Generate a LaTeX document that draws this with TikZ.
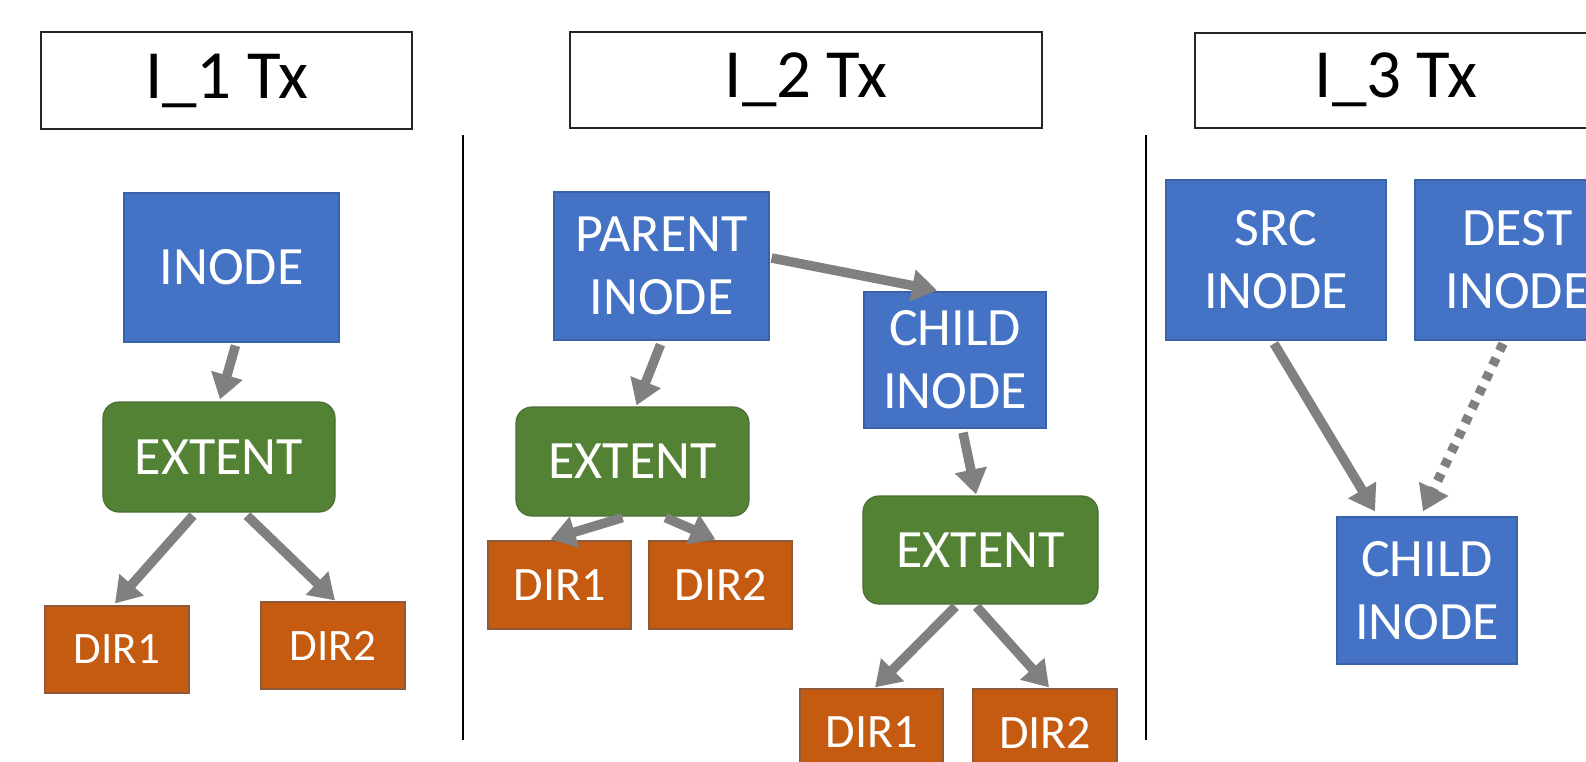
\documentclass[tikz,border=0pt]{standalone}
\usepackage{fontspec}
\setmainfont{Carlito}
\usetikzlibrary{arrows.meta}
\definecolor{myblue}{HTML}{4472C4}
\definecolor{blueline}{HTML}{3A62A8}
\definecolor{mygreen}{HTML}{548235}
\definecolor{greenline}{HTML}{4A6E35}
\definecolor{myorange}{HTML}{C55A11}
\definecolor{orangeline}{HTML}{8E5A3A}
\definecolor{arrgray}{HTML}{808080}
\tikzset{
  titlebox/.style={rectangle, draw=black!85, line width=1.6pt, fill=white, inner sep=0pt,
    font=\fontsize{69}{76}\selectfont},
  inodebox/.style={rectangle, draw=blueline, line width=1.2pt, fill=myblue, text=white,
    align=center, inner sep=0pt, font=\fontsize{54}{63}\selectfont},
  extentbox/.style={rectangle, rounded corners=16pt, draw=greenline, line width=1.2pt,
    fill=mygreen, text=white, inner sep=0pt, font=\fontsize{54}{63}\selectfont},
  dirbox/.style={rectangle, draw=orangeline, line width=1.2pt, fill=myorange, text=white,
    inner sep=0pt, font=\fontsize{48}{56}\selectfont},
  dirsmall/.style={dirbox, font=\fontsize{45}{52}\selectfont},
  arr/.style={draw=arrgray, line width=9.5pt,
    -{Triangle[length=25pt,width=31pt]}},
  dotarr/.style={arr, dash pattern=on 8pt off 8pt},
  divider/.style={draw=black, line width=2.4pt}
}
\begin{document}
\begin{tikzpicture}[x=1pt,y=-1pt]
\useasboundingbox (0,0) rectangle (1586,761);
\clip (0,0) rectangle (1586,761);
\fill[white] (0,0) rectangle (1586,761);

% dividers
\coordinate (v1a) at (463,135);
\coordinate (v1b) at (463,740);
\coordinate (v2a) at (1146,135);
\coordinate (v2b) at (1146,740);
\draw[divider] (v1a) -- (v1b);
\draw[divider] (v2a) -- (v2b);

% titles
\node[titlebox, minimum width=371pt, minimum height=97pt] (t1) at (226.5,80.5) {I\_1 Tx};
\node[titlebox, minimum width=472pt, minimum height=96pt] (t2) at (806,80) {I\_2 Tx};
\node[titlebox, minimum width=425pt, minimum height=95pt] (t3) at (1407.5,80.5) {};
\node[font=\fontsize{69}{76}\selectfont, inner sep=0pt] (t3txt) at (1396,80) {I\_3 Tx};

% column 1
\node[inodebox, minimum width=215pt, minimum height=149pt] (inode1) at (231.5,267.5) {INODE};
\node[extentbox, minimum width=232pt, minimum height=110pt] (ext1) at (219,457) {EXTENT};
\node[dirsmall, minimum width=144pt, minimum height=87pt] (d11) at (117,649.5) {DIR1};
\node[dirsmall, minimum width=144pt, minimum height=87pt] (d12) at (333,645.5) {DIR2};
\draw[arr] ([xshift=4pt,yshift=-3pt]inode1.south) -- ([xshift=1pt,yshift=2pt]ext1.north);
\draw[arr] ([xshift=-26pt,yshift=-3pt]ext1.south) -- ([xshift=-2pt,yshift=2pt]d11.north);
\draw[arr] ([xshift=28pt,yshift=-3pt]ext1.south) -- ([xshift=2pt,yshift=1pt]d12.north);

% column 2
\node[inodebox, minimum width=215pt, minimum height=148pt] (parent) at (661.5,266) {PARENT\\INODE};
\node[inodebox, minimum width=182pt, minimum height=136pt] (child2) at (955,360) {CHILD\\INODE};
\node[extentbox, minimum width=233pt, minimum height=109pt] (ext2) at (632.5,461.5) {EXTENT};
\node[dirbox, minimum width=143pt, minimum height=88pt] (d21) at (559.5,585) {DIR1};
\node[dirbox, minimum width=143pt, minimum height=88pt] (d22) at (720.5,585) {DIR2};
\node[extentbox, minimum width=235pt, minimum height=108pt] (ext3) at (980.5,550) {EXTENT};
\node[dirbox, minimum width=143pt, minimum height=87pt] (d31) at (871.5,732.5) {DIR1};
\node[dirbox, minimum width=144pt, minimum height=87pt] (d32) at (1045,732.5) {DIR2};
\draw[arr] ([xshift=2pt,yshift=8pt]parent.east) -- ([xshift=-18pt,yshift=1pt]child2.north);
\draw[arr] ([xshift=-1pt,yshift=-4pt]parent.south) -- ([xshift=4pt,yshift=1pt]ext2.north);
\draw[arr] ([xshift=-10pt,yshift=-1pt]ext2.south) -- ([xshift=-9pt,yshift=1pt]d21.north);
\draw[arr] ([xshift=33pt,yshift=-1pt]ext2.south) -- ([xshift=-5pt,yshift=1pt]d22.north);
\draw[arr] ([xshift=8pt,yshift=-4pt]child2.south) -- ([xshift=-4.5pt,yshift=1pt]ext3.north);
\draw[arr] ([xshift=-25pt,yshift=-2pt]ext3.south) -- ([xshift=3.5pt,yshift=1pt]d31.north);
\draw[arr] ([xshift=-4pt,yshift=-2pt]ext3.south) -- ([xshift=4pt,yshift=1pt]d32.north);

% column 3
\node[inodebox, minimum width=220pt, minimum height=160pt] (src) at (1276,260) {SRC\\INODE};
\node[inodebox, minimum width=205pt, minimum height=160pt] (dest) at (1517.5,260) {DEST\\INODE};
\node[inodebox, minimum width=180pt, minimum height=147pt] (child3) at (1427,590.5) {CHILD\\INODE};
\draw[arr] ([xshift=-2pt,yshift=-3pt]src.south) -- ([xshift=-52pt,yshift=5pt]child3.north);
\draw[dotarr] ([xshift=-14.5pt,yshift=-3pt]dest.south) -- ([xshift=-4pt,yshift=5pt]child3.north);
\end{tikzpicture}
\end{document}
